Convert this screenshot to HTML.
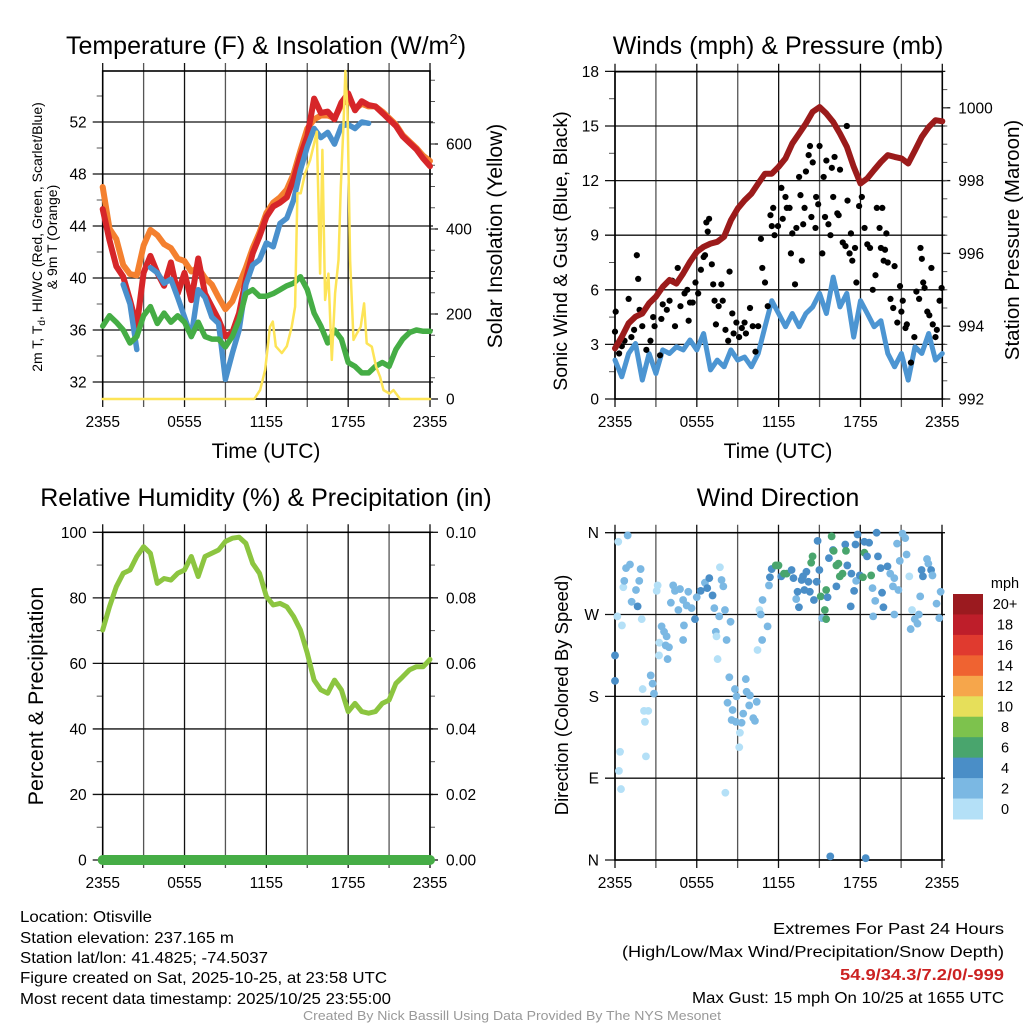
<!DOCTYPE html>
<html><head><meta charset="utf-8"><style>
html,body{margin:0;padding:0;background:#fff;}
svg{display:block;font-family:"Liberation Sans",sans-serif;}
</style></head><body>
<svg id="c" xmlns="http://www.w3.org/2000/svg" width="1024" height="1024" viewBox="0 0 1024 1024">
<rect x="0" y="0" width="1024" height="1024" fill="#fff"/>
<g id="layers"></g>
<!-- titles -->
<text x="266" y="54" font-size="25" text-anchor="middle">Temperature (F) &amp; Insolation (W/m<tspan font-size="15" dy="-10">2</tspan><tspan dy="10">)</tspan></text>
<text x="778" y="54" font-size="25" text-anchor="middle">Winds (mph) &amp; Pressure (mb)</text>
<text x="266" y="506" font-size="25" text-anchor="middle">Relative Humidity (%) &amp; Precipitation (in)</text>
<text x="778" y="506" font-size="25" text-anchor="middle">Wind Direction</text>
<!-- x axis titles -->
<text x="266" y="458" font-size="21" text-anchor="middle">Time (UTC)</text>
<text x="778" y="458" font-size="21" text-anchor="middle">Time (UTC)</text>
<!-- y axis titles -->
<text transform="translate(42,237) rotate(-90)" font-size="14" text-anchor="middle">2m T, T<tspan font-size="10" dy="3">d</tspan><tspan dy="-3">, HI/WC (Red, Green, Scarlet/Blue)</tspan></text>
<text transform="translate(57,237) rotate(-90)" font-size="14" text-anchor="middle">&amp; 9m T (Orange)</text>
<text transform="translate(502,236) rotate(-90)" font-size="21" text-anchor="middle">Solar Insolation (Yellow)</text>
<text transform="translate(567,251) rotate(-90)" font-size="19.5" text-anchor="middle">Sonic Wind &amp; Gust (Blue, Black)</text>
<text transform="translate(1019,240) rotate(-90)" font-size="20.5" text-anchor="middle">Station Pressure (Maroon)</text>
<text transform="translate(43,696) rotate(-90)" font-size="21.5" text-anchor="middle">Percent &amp; Precipitation</text>
<text transform="translate(568,695) rotate(-90)" font-size="18.5" text-anchor="middle">Direction (Colored By Speed)</text>
<!-- info text -->
<g font-size="16">
<text x="20" y="922" textLength="132" lengthAdjust="spacingAndGlyphs">Location: Otisville</text>
<text x="20" y="943" textLength="214" lengthAdjust="spacingAndGlyphs">Station elevation: 237.165 m</text>
<text x="20" y="963" textLength="248" lengthAdjust="spacingAndGlyphs">Station lat/lon: 41.4825; -74.5037</text>
<text x="20" y="983" textLength="367" lengthAdjust="spacingAndGlyphs">Figure created on Sat, 2025-10-25, at 23:58 UTC</text>
<text x="20" y="1004" textLength="371" lengthAdjust="spacingAndGlyphs">Most recent data timestamp: 2025/10/25 23:55:00</text>
<text x="773" y="934" textLength="231" lengthAdjust="spacingAndGlyphs">Extremes For Past 24 Hours</text>
<text x="622" y="957" textLength="382" lengthAdjust="spacingAndGlyphs">(High/Low/Max Wind/Precipitation/Snow Depth)</text>
<text x="840" y="980" textLength="164" lengthAdjust="spacingAndGlyphs" font-weight="bold" fill="#cc2222">54.9/34.3/7.2/0/-999</text>
<text x="692" y="1003" textLength="312" lengthAdjust="spacingAndGlyphs">Max Gust: 15 mph On 10/25 at 1655 UTC</text>
</g>
<text x="303" y="1020" font-size="12.5" fill="#999" textLength="418" lengthAdjust="spacingAndGlyphs">Created By Nick Bassill Using Data Provided By The NYS Mesonet</text>
</svg>
<script>
// ---------- data ----------
const xTickLabels = ['2355','0555','1155','1755','2355'];
const tempTicks = [32,36,40,44,48,52];
const solarTicks = [0,200,400,600];
const windTicks = [0,3,6,9,12,15,18];
const presTicks = [992,994,996,998,1000];
const rhTicks = [0,20,40,60,80,100];
const precipTicks = ['0.00','0.02','0.04','0.06','0.08','0.10'];
const dirTicks = ['N','E','S','W','N'];
const temp2m = [45.3,42.9,40.9,40.1,38.3,36.3,40.4,41.7,40.4,39.4,41.2,38.8,40.4,38.3,41.5,38.8,37.8,36.8,35.5,35.8,37.3,39.9,41.9,43.2,44.7,45.5,45.8,46.2,47.6,49.4,50.9,53.8,52.7,52.8,52.2,53.5,54.2,52.9,53.6,53.3,53.2,52.7,52.2,51.7,50.9,50.4,49.9,49.2,48.6];
const temp9m = [47.0,43.8,43.0,41.0,40.3,40.2,42.5,43.7,43.3,42.6,42.3,41.5,41.3,40.5,40.8,40.0,39.5,38.5,37.6,38.2,39.5,40.8,42.3,43.5,45.0,45.8,46.2,46.8,48.0,49.8,51.5,52.2,52.5,52.5,52.3,53.3,53.8,53.0,53.4,53.2,53.2,52.8,52.3,51.8,51.0,50.5,50.0,49.4,49.0];
const windChill = [null,null,null,39.5,38.0,34.5,null,40.8,40.4,39.6,39.9,38.5,37.0,35.5,39.1,38.5,37.0,36.5,32.2,34.2,36.0,39.5,41.0,41.4,42.7,42.4,44.2,44.6,46.0,48.3,50.1,51.5,50.8,51.2,50.3,51.7,51.8,51.5,52.0,51.9,null,null,null,null,null,null,null,null,null];
const dewpoint = [36.3,37.1,36.6,36.0,35.0,35.5,37.1,37.8,36.5,37.3,36.6,37.1,36.6,35.5,36.6,35.5,35.3,35.3,34.7,35.5,36.8,38.8,39.1,38.6,38.6,38.8,39.1,39.4,39.6,40.1,39.1,37.3,36.3,35.0,36.0,35.3,33.5,33.2,32.7,32.7,33.2,33.5,33.2,34.5,35.3,35.8,36.0,35.9,35.9];
const solarHours = [0,11.12,11.54,11.91,12.27,12.47,12.69,13.13,13.5,13.86,14.11,14.28,14.52,14.84,15.21,15.5,15.7,15.94,16.11,16.31,16.55,16.8,17.04,17.29,17.46,17.65,17.8,17.95,18.14,18.39,18.63,18.92,19.17,19.36,19.73,20.05,20.34,20.59,21.03,21.32,21.81,24];
const solarVals = [0,0,21,68,170,182,124,108,124,170,217,484,484,531,562,601,629,295,586,233,295,92,249,327,499,640,790,680,327,139,154,170,225,131,123,76,52,21,13,21,0,0];
const windSpeed = [2.14,1.22,2.5,3.05,1.04,2.5,1.4,2.7,2.5,2.87,2.7,3.24,2.7,3.6,1.6,2.14,1.77,2.7,2.14,2.3,1.77,2.5,3.97,5.4,4.7,3.97,4.7,3.97,4.7,5.06,5.8,4.7,6.7,5.06,5.8,3.4,5.4,4.7,3.97,4.3,2.5,1.77,2.5,1.04,2.87,2.5,3.6,2.14,2.5];
const pressure = [993.39,993.71,994.08,994.26,994.35,994.63,994.81,995.08,995.27,995.17,995.45,995.77,996.04,996.18,996.27,996.32,996.46,996.91,997.23,997.46,997.64,997.92,998.19,998.19,998.38,998.61,999.02,999.29,999.57,999.89,1000.02,999.84,999.61,999.29,998.93,998.38,997.92,998.06,998.29,998.51,998.70,998.65,998.61,998.47,998.83,999.20,999.47,999.66,999.63];
const gustHours = [0,0.05,0.3,0.5,0.7,1.0,1.2,1.4,1.6,1.7,1.8,2.0,2.3,2.6,2.8,2.9,3.3,3.4,3.5,3.8,4.0,4.2,4.4,4.6,4.8,5.1,5.3,5.4,5.5,5.7,5.9,6.1,6.3,6.5,6.6,6.7,6.8,6.9,7.1,7.2,7.3,7.4,7.6,7.8,7.9,8.1,8.3,8.4,8.6,8.7,8.9,9.1,9.3,9.5,9.6,9.9,10.1,10.3,10.5,10.7,10.8,11.0,11.2,11.4,11.5,11.6,11.7,11.95,12.2,12.3,12.5,12.6,12.8,12.9,13.0,13.2,13.3,13.5,13.6,13.7,13.8,13.9,14.0,14.2,14.3,14.4,14.5,14.7,14.75,14.9,15.0,15.2,15.3,15.4,15.5,15.65,15.8,15.9,16.0,16.1,16.3,16.4,16.5,16.7,16.9,17.0,17.05,17.2,17.3,17.4,17.6,17.7,17.9,18.1,18.3,18.5,18.7,18.9,19.1,19.2,19.4,19.5,19.6,19.7,19.8,19.9,20.0,20.2,20.4,20.5,20.7,20.9,21.0,21.1,21.3,21.4,21.7,21.95,22.1,22.3,22.4,22.5,22.6,22.7,22.9,23.05,23.2,23.3,23.5,23.6,23.8,23.95];
const gustVals = [3.7,4.8,2.5,2.9,3.2,5.5,3.4,3.8,7.9,6.6,4.9,4.0,2.7,3.2,4.5,4.0,2.4,4.4,5.2,4.9,5.4,6.5,4.0,7.2,5.1,5.8,6.0,4.3,5.3,5.3,6.4,5.8,7.1,7.8,7.9,9.7,9.2,9.9,7.4,6.3,5.4,4.1,5.1,6.3,5.4,3.8,3.2,7.0,4.7,3.6,4.2,3.4,3.9,4.2,3.6,5.0,4.0,2.6,4.0,8.8,7.2,6.4,5.1,10.1,9.5,10.5,9.0,9.5,11.6,9.9,11.1,10.5,10.5,8.0,9.1,6.3,9.4,12.2,11.2,7.6,9.6,10.5,12.5,13.4,13.9,10.0,13.0,9.4,11.1,10.7,13.9,8.0,12.2,10.0,13.1,9.6,9.0,12.7,11.1,13.3,10.2,10.1,12.6,8.6,8.4,15.0,10.9,8.0,9.1,7.6,8.3,6.4,10.6,11.1,9.4,8.5,8.3,6.0,6.8,10.5,9.4,8.3,10.5,7.6,8.2,9.1,7.5,5.5,5.0,7.3,4.2,6.2,4.8,5.4,3.9,4.1,2.0,3.4,5.9,5.5,8.3,7.7,6.4,6.1,4.8,4.6,7.2,4.1,3.4,3.8,5.4,6.1];
const relHumidity = [70.2,77.3,83.4,87.5,88.5,92.6,95.6,93.6,84.4,85.9,85.4,87.5,88.5,92.6,86.5,92.6,93.6,94.6,97.2,98.2,98.5,96.6,90.5,87.5,80.4,77.8,78.3,77.3,74.3,70.2,63.1,54.9,51.9,50.9,54.9,51.9,45.3,47.8,45.3,44.8,45.3,47.8,48.8,53.9,55.9,58.0,59.0,59.0,61.2];
const precip = [0,0,0,0,0,0,0,0,0,0,0,0,0,0,0,0,0,0,0,0,0,0,0,0,0,0,0,0,0,0,0,0,0,0,0,0,0,0,0,0,0,0,0,0,0,0,0,0,0];
const dirHours = [0.24,0.93,0.61,0.68,0.81,1.1,1.88,1.78,1.54,1.22,1.66,1.96,0.17,0.51,0,0,0.37,0.29,0.44,2.27,2.2,2.13,2.44,2.03,2.62,2.76,2.86,3.06,3.13,3.23,3.25,3.42,3.6,3.79,3.72,3.96,3.86,4.1,4.27,4.4,4.65,4.77,5.0,5.0,5.06,5.38,5.26,5.62,5.87,6.0,6.29,6.6,6.92,6.77,7.16,7.29,7.4,7.45,7.53,7.65,7.82,7.95,7.7,8.07,8.19,8.48,8.1,8.39,8.26,8.63,8.8,8.92,8.56,8.87,9.29,9.41,9.17,9.12,9.6,9.66,9.9,9.85,10.4,10.15,10.27,10.46,10.6,10.7,10.83,11.2,10.8,11.3,11.37,11.5,11.8,12.0,12.2,12.4,12.6,12.96,13.1,13.3,13.4,13.5,13.7,13.8,14.05,13.9,14.2,14.3,14.4,14.5,14.6,14.8,14.87,15.0,15.1,15.2,15.4,15.5,15.5,15.6,15.7,15.9,16.0,16.05,16.25,16.25,16.4,16.5,16.7,16.9,16.95,17.05,17.3,17.35,17.55,17.65,17.7,17.8,17.97,18.2,18.3,18.3,18.5,18.65,18.8,18.9,18.95,19.1,19.2,19.3,19.5,19.6,19.7,20.0,20.2,20.5,20.5,20.4,20.8,20.9,20.7,21.1,21.3,21.4,21.6,21.7,21.8,22.0,22.2,22.3,22.4,22.5,22.6,22.9,23.0,23.2,23.3,23.6,23.8,23.9,15.8,18.4];
const dirVals = [350,357,300,307,321,325,320,307,297,284,279,265,268,258,225,197,119,98,78,114,152,164,164,188,203,194,183,296,302,225,239,257,251,246,236,234,221,283,302,296,275,298,286,242,258,295,280,277,265,289,296,305,310,299,291,277,251,246,221,268,308,301,322,275,242,262,74,201,173,165,188,180,154,152,151,161,140,124,199,185,181,170,174,156,153,231,275,270,286,257,242,302,311,320,324,324,312,315,315,319,310,287,295,278,308,312,317,297,306,295,327,334,286,306,351,319,290,266,275,265,297,289,332,356,341,340,301,324,326,312,315,347,340,324,279,315,296,347,307,358,313,311,338,350,334,349,313,299,268,285,360,334,321,294,278,323,315,310,270,301,297,329,348,359,354,336,312,254,275,265,260,270,290,319,312,331,326,319,313,282,266,295,4,2];
const dirSpeeds = [1,3,1,3,3,3,3,3,3,3, 5,1,1,1,5,5,1,1,1,1, 1,1,1,1,3,3,3,1,1,1, 1,3,3,3,3,3,3,3,3,3, 3,3,3,3,3,3,3,3,5,3, 5,3,5,5,5,3,3,1,1,3, 3,3,1,3,3,3,1,3,3,3, 3,3,3,3,3,3,1,1,3,3, 3,3,3,3,3,1,1,3,3,3, 3,3,5,5,7,7,5,7,7,5, 5,3,5,5,5,5,5,5,5,5, 7,7,5,5,5,5,7,3,7,7, 7,5,5,7,5,7,5,7,7,7, 7,5,7,5,5,5,5,5,3,5, 5,7,7,5,5,5,7,3,3,3, 5,5,5,5,5,5,3,3,3,3, 3,3,3,3,3,3,1,3,1,3, 3,3,3,5,5,3,3,5,3,3, 3,3,5,5];
const cbLabels = ['20+','18','16','14','12','10','8','6','4','2','0'];
const cbColors = ['#9b1a1f','#be1e2a','#e03a2f','#ef6331','#f6a64b','#e6df5a','#7dc24d','#49a56d','#4a8ec7','#7bb8e3','#b4e0f7'];

// ---------- helpers ----------
const NS='http://www.w3.org/2000/svg';
const root=document.getElementById('layers');
function mk(tag,attrs,parent){const e=document.createElementNS(NS,tag);for(const k in attrs)e.setAttribute(k,attrs[k]);(parent||root).appendChild(e);return e;}
const P1={x0:102.7,x1:430,y0:71,y1:399};
const P2={x0:615,x1:942.3,y0:71.7,y1:399};
const P3={x0:102.7,x1:430,y0:532.3,y1:860};
const P4={x0:615,x1:942,y0:532.7,y1:860};
function sx(P,h){return P.x0+(P.x1-P.x0)*h/24;}
const tempY=t=>382-(t-32)*13;
const solarY=w=>399-w*85/200;
const windY=v=>399-v*18.2;
const presY=p=>399-(p-992)*36.4;
const rhY=r=>860-r*3.277;
const precY=p=>860-p*3277;
const dirY=i=>860-i*(327.3/4);
const dirValY=d=>860-d*327.3/360;
const halfHour=i=>i*0.5;

function pathFrom(P,hours,vals,yf){let d='',pen=false;for(let i=0;i<vals.length;i++){const v=vals[i];if(v===null||v===undefined){pen=false;continue;}const x=sx(P,hours(i)).toFixed(1),y=yf(v).toFixed(1);d+=(pen?'L':'M')+x+' '+y+' ';pen=true;}return d;}

function panelGrid(P,name,yVals,yf,leftLabels,minorVals,rightVals,ryf,rightLabels,rightMinor){
  const g=mk('g',{});
  
  
  for(let k=0;k<=8;k++){
    const x=sx(P,k*3);
    const l=mk('line',{x1:x,x2:x,y1:P.y0-8,y2:P.y1+8,stroke:(k%2?'#555':'#111'),'stroke-width':1.3},g);
    
    
  }
  yVals.forEach((v,i)=>{
    const y=yf(v);
    const l=mk('line',{x1:P.x0-10,x2:P.x1+3,y1:y,y2:y,stroke:'#111','stroke-width':1.3},g);
    
    
    const t=mk('text',{x:P.x0-16,y:y+5.5,'font-size':15.5,'text-anchor':'end'},g);
    t.textContent=leftLabels[i];
    
    
  });
  (minorVals||[]).forEach(v=>{const y=yf(v);const l=mk('line',{x1:P.x0-6,x2:P.x0,y1:y,y2:y,stroke:'#555','stroke-width':1},g);
    
    });
  if(rightVals){
    rightVals.forEach((v,i)=>{const y=ryf(v);
      const l=mk('line',{x1:P.x1,x2:P.x1+8,y1:y,y2:y,stroke:'#111','stroke-width':1.3},g);
      
      
      const t=mk('text',{x:P.x1+16,y:y+5.5,'font-size':15.5},g);
      t.textContent=rightLabels[i];
      
      });
    (rightMinor||[]).forEach(v=>{const y=ryf(v);const l=mk('line',{x1:P.x1,x2:P.x1+5,y1:y,y2:y,stroke:'#555','stroke-width':1},g);
      
      });
  }
  const f=mk('rect',{x:P.x0,y:P.y0,width:P.x1-P.x0,height:P.y1-P.y0,fill:'none',stroke:'#000','stroke-width':1.6},g);
  
  
  xTickLabels.forEach((s,i)=>{const t=mk('text',{x:sx(P,i*6),y:P.y1+28,'font-size':15.5,'text-anchor':'middle'},g);
    t.textContent=s;
    
    });
}
function rangeVals(a,b,s){const r=[];for(let v=a;v<=b+1e-9;v+=s)r.push(+v.toFixed(4));return r;}
function series(P,hours,vals,yf,color,w,name){
  const p=mk('path',{d:pathFrom(P,hours,vals,yf),fill:'none',stroke:color,'stroke-width':w,'stroke-linejoin':'round','stroke-linecap':'round'});
  
  
  return p;
}

// ---------- panel 1 ----------
panelGrid(P1,'temperature',tempTicks,tempY,tempTicks.map(String),rangeVals(34,54,4),solarTicks,solarY,solarTicks.map(String),rangeVals(50,750,50));
series(P1,halfHour,temp9m,tempY,'#f4802f',6,'temp-9m-line');
series(P1,halfHour,temp2m,tempY,'#d62629',6,'temp-2m-line');
series(P1,halfHour,windChill,tempY,'#4a90cc',5.5,'wind-chill-line');
series(P1,halfHour,dewpoint,tempY,'#45ad45',5.5,'dewpoint-line');
series(P1,i=>solarHours[i],solarVals,w=>Math.max(P1.y0,solarY(w)),'#fde457',2.5,'solar-line');

// ---------- panel 2 ----------
panelGrid(P2,'winds',windTicks,windY,windTicks.map(String),rangeVals(1.5,16.5,3),presTicks,presY,presTicks.map(String),rangeVals(992.5,1000.5,0.5));
series(P2,halfHour,windSpeed,windY,'#4c95d2',5,'wind-speed-line');
gustVals.forEach((v,i)=>{
  const c=mk('circle',{cx:sx(P2,gustHours[i]),cy:windY(v),r:3.1,fill:'#000'});
  
  
});
series(P2,halfHour,pressure,presY,'#9b1b1b',6,'pressure-line');

// ---------- panel 3 ----------
panelGrid(P3,'humidity',rhTicks,rhY,rhTicks.map(String),rangeVals(10,90,20),precipTicks.map(Number),precY,precipTicks,rangeVals(0.01,0.09,0.02));
series(P3,halfHour,relHumidity,rhY,'#8cc540',5,'humidity-line');
series(P3,halfHour,precip,precY,'#46ad46',10,'precipitation-line');

// ---------- panel 4 ----------
panelGrid(P4,'direction',[0,1,2,3,4],dirY,dirTicks,[],null);
dirVals.forEach((d,i)=>{
  const ci=Math.max(0,Math.min(10,10-Math.floor(dirSpeeds[i]/2)));
  const c=mk('circle',{cx:sx(P4,dirHours[i]),cy:dirValY(d),r:3.9,fill:cbColors[ci]});
  
  
});
// colorbar
const cbg=mk('g',{});


const cbT=mk('text',{x:1005,y:588,'font-size':14.5,'text-anchor':'middle'},cbg);
cbT.textContent='mph';


const boxH=(819-594)/cbLabels.length;
cbLabels.forEach((lab,i)=>{
  const r=mk('rect',{x:953,y:594+i*boxH,width:30,height:boxH+0.5,fill:cbColors[i]},cbg);
  
  
  const t=mk('text',{x:1005,y:594+i*boxH+boxH/2+5,'font-size':14.5,'text-anchor':'middle'},cbg);
  t.textContent=lab;
  
  
});
</script>
</body></html>
